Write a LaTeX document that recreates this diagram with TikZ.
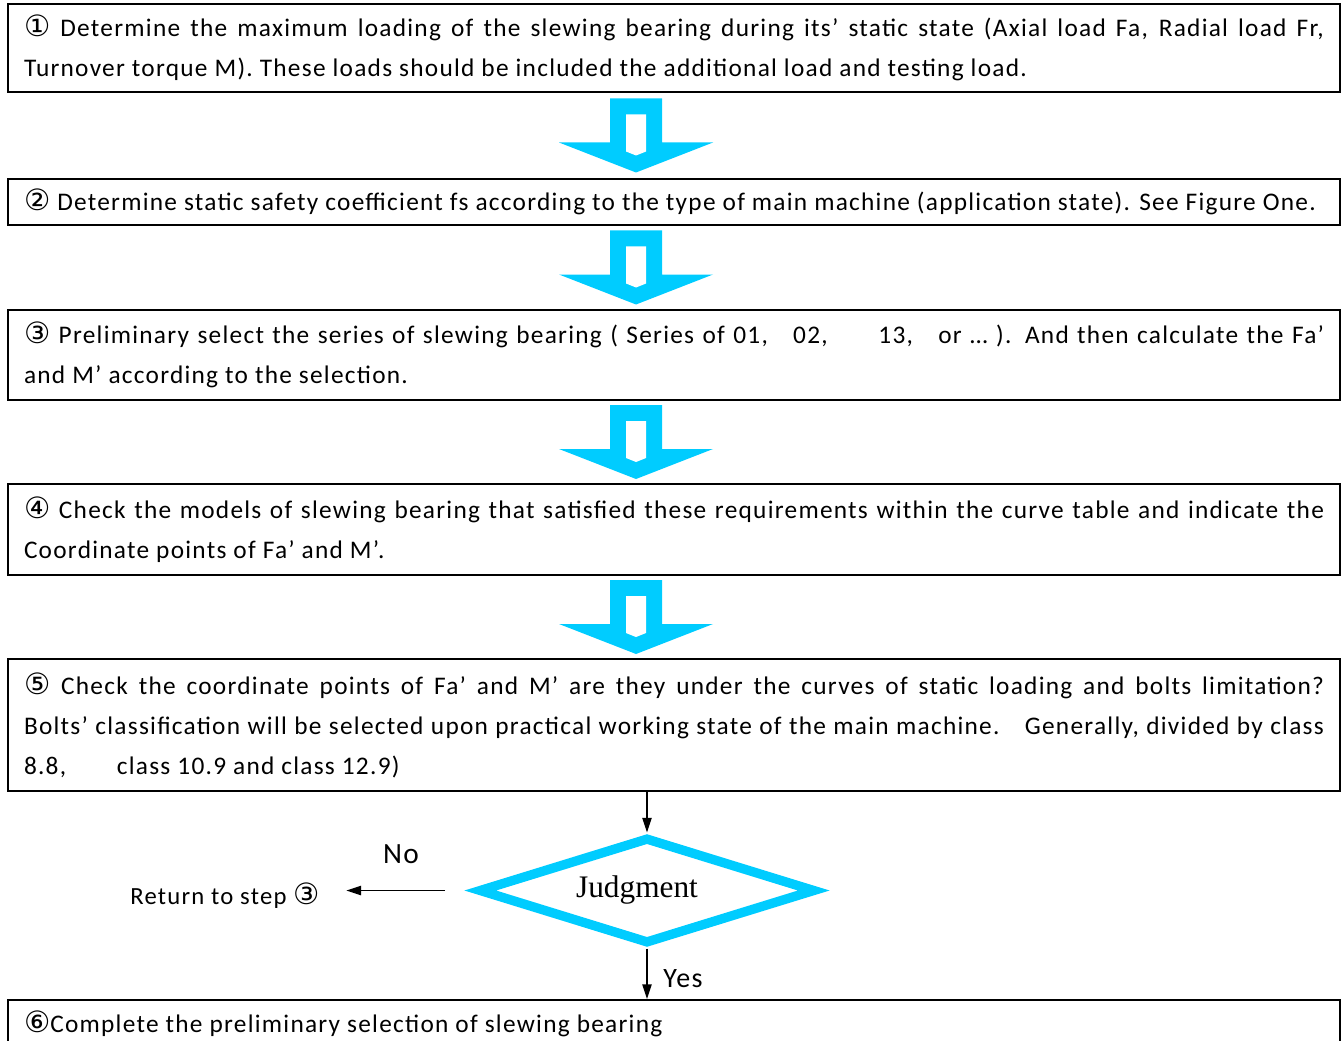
\documentclass[tikz,border=0pt]{standalone}
\usepackage{fontspec}
\setmainfont{Carlito}[LetterSpace=5]
\newfontfamily\circfont{DejaVu Sans}
\newfontfamily\judgefont{Liberation Serif}
\usepackage{tikz}
\usetikzlibrary{calc, positioning, shapes.geometric, arrows.meta}
\definecolor{flowcyan}{HTML}{00CCFF}
\newcommand{\cnum}[1]{{\circfont\fontsize{22}{30}\selectfont #1}}
\tikzstyle{stepbox}=[draw, line width=1.5pt, anchor=north west, text width=975pt, inner xsep=12pt, inner ysep=0pt, align=justify, font=\fontsize{19}{30}\selectfont]
\tikzstyle{judge}=[draw=flowcyan, shape=diamond, shape aspect=3.4, line width=7pt, minimum width=253pt, minimum height=80pt, inner sep=0pt, font=\judgefont\fontsize{23.5}{28}\selectfont]
\tikzstyle{flow}=[line width=1pt, ->]
\tikzstyle{side}=[font=\fontsize{18.5}{20}\selectfont]
\tikzstyle{answer}=[font=\fontsize{21}{24}\selectfont]
\tikzset{>={Triangle[length=11pt,width=7pt]}}
\tikzset{bigarrow/.pic={
\fill[flowcyan] (-26,-37) -- (26,-37) -- (26,7) -- (77,7) -- (0,37) -- (-77,7) -- (-26,7) -- cycle;
\fill[white] (-10,-21) -- (10,-21) -- (10,16) -- (0,20) -- (-10,16) -- cycle;
}}

\begin{document}
\begin{tikzpicture}[x=0.75pt, y=-0.75pt]
\useasboundingbox (0,0) rectangle (1341,1041);
% the six steps
\node[stepbox, minimum height=66pt] (b1) at (7,3) {\cnum{①} Determine the maximum loading of the slewing bearing during its’ static state (Axial load Fa, Radial load Fr,\linebreak Turnover torque M). These loads should be included the additional load and testing load.};
\node[stepbox, minimum height=34.5pt] (b2) at (7,178) {\cnum{②} Determine static safety coefficient fs according to the type of main machine (application state). See Figure One.};
\node[stepbox, minimum height=67.5pt] (b3) at (7,309) {\cnum{③} Preliminary select the series of slewing bearing ( Series of 01,\quad 02,\qquad 13,\quad or … ). And then calculate the Fa’\linebreak and M’ according to the selection.};
\node[stepbox, minimum height=68.25pt] (b4) at (7,483) {\cnum{④} Check the models of slewing bearing that satisfied these requirements within the curve table and indicate the\linebreak Coordinate points of Fa’ and M’.};
\node[stepbox, minimum height=99pt] (b5) at (7,658) {\cnum{⑤} Check the coordinate points of Fa’ and M’ are they under the curves of static loading and bolts limitation?\linebreak Bolts’ classification will be selected upon practical working state of the main machine.\quad Generally, divided by class\linebreak 8.8,\qquad class 10.9 and class 12.9)};
\node[stepbox, minimum height=36pt] (b6) at (7,999) {\cnum{⑥}Complete the preliminary selection of slewing bearing};
% the hollow arrows between steps
\foreach \a/\b in {b1/b2, b2/b3, b3/b4, b4/b5}
  \pic at ($(\a.south)!0.5!(\b.north) + (-38,0)$) {bigarrow};
% the judgment
\node[judge] (jd) at (647,890.5) {Judgment\hspace*{15pt}};
\node[side] (ret) at (225,896) {Return to step \cnum{③}};
\node[answer, font=\fontsize{22}{24}\selectfont] (no) at (401,854) {No};
\node[answer] (yes) at (683,979) {Yes};
\draw[flow] (b5.south -| jd.north) -- (jd.north);
\draw[flow] (jd.south) -- (jd.south |- b6.north);
\draw[flow, shorten <=21.5pt, shorten >=16.5pt] (jd.west) -- (jd.west -| ret.east);
\end{tikzpicture}
\end{document}
